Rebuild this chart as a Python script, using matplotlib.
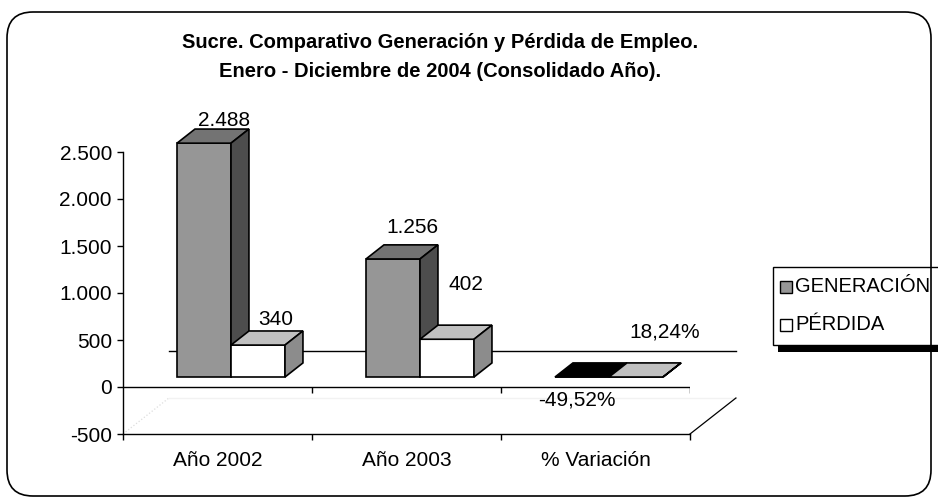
import matplotlib
matplotlib.use("Agg")
import matplotlib.pyplot as plt
from matplotlib.patches import Polygon, Rectangle, FancyBboxPatch
from matplotlib.transforms import IdentityTransform

plt.rcParams['font.family'] = ['Liberation Sans', 'DejaVu Sans']

# data
categories = ['Año 2002', 'Año 2003', '% Variación']
generacion = [2488, 1256, -0.4952]
perdida = [340, 402, 0.1824]
series_names = ['GENERACIÓN', 'PÉRDIDA']
is_pct = [False, False, True]
yticks = [-500, 0, 500, 1000, 1500, 2000, 2500]

# label offsets (pixels) from the top face of each bar
gen_off = [(11, 16), (10, 24), (-14, -30)]
per_off = [(9, 19), (10, 48), (20, 38)]


def fmt_num(v, pct):
    if pct:
        return f"{v * 100:.2f}%".replace('.', ',')
    return f"{v:,.0f}".replace(',', '.')


W, H = 938, 504
fig = plt.figure(figsize=(W / 100, H / 100), dpi=100)
ax = fig.add_axes([123 / W, (H - 434) / H, 567 / W, (434 - 152) / H])
ax.set_xlim(0, 3)
ax.set_ylim(-500, 2500)

# 3d look
bw = 2 / 7          # bar width
bx = 2 / 7          # first bar left within category
base = 106          # bars sit a bit back from the axis plane
ddx, ddy = 0.095, 150   # depth of bars
wdx, wdy = 0.243, 383   # depth of the floor

# back wall zero line and floor edges
ax.plot([wdx, 3 + wdx], [wdy, wdy], color='black', lw=1, clip_on=False, zorder=1)
ax.plot([wdx, 3 + wdx], [-500 + wdy, -500 + wdy], color='#f2f2f2', lw=1, clip_on=False, zorder=1)
ax.plot([3, 3 + wdx], [-500, -500 + wdy], color='black', lw=0.9, clip_on=False, zorder=1)
ax.plot([0, wdx], [-500, -500 + wdy], color='#dddddd', lw=0.9, ls=':', clip_on=False, zorder=1)

ax.axhline(0, color='black', lw=1, zorder=2)
ax.vlines([1, 2, 3], -60, 0, color='black', lw=1, zorder=2)

colors = {
    'gen': ('#969696', '#737373', '#4d4d4d'),
    'per': ('#ffffff', '#c0c0c0', '#8c8c8c'),
}


def bar3d(x0, val, cols, neg_top=None):
    front, top, side = cols
    b = base
    t = base + val
    lo, hi = min(b, t), max(b, t)
    kw = dict(edgecolor='black', lw=1.2, joinstyle='miter', clip_on=False, zorder=3)
    ax.add_patch(Polygon([(x0, lo), (x0 + bw, lo), (x0 + bw, hi), (x0, hi)], facecolor=front, **kw))
    tc = top if (val >= 0 or neg_top is None) else neg_top
    ax.add_patch(Polygon([(x0, hi), (x0 + bw, hi), (x0 + bw + ddx, hi + ddy), (x0 + ddx, hi + ddy)],
                         facecolor=tc, **kw))
    ax.add_patch(Polygon([(x0 + bw, lo), (x0 + bw + ddx, lo + ddy), (x0 + bw + ddx, hi + ddy), (x0 + bw, hi)],
                         facecolor=side, **kw))
    return (x0 + bw / 2 + ddx / 2, hi + ddy / 2)


for i in range(len(categories)):
    g = bar3d(i + bx, generacion[i], colors['gen'], neg_top='black')
    p = bar3d(i + bx + bw, perdida[i], colors['per'])
    for (cx, cy), v, off in [(g, generacion[i], gen_off[i]), (p, perdida[i], per_off[i])]:
        ax.annotate(fmt_num(v, is_pct[i]), (cx, cy), xytext=off, textcoords='offset pixels',
                    ha='center', va='center', fontsize=15, zorder=5, annotation_clip=False)

# axes styling
for s in ['top', 'right']:
    ax.spines[s].set_visible(False)
ax.spines['left'].set_linewidth(1)
ax.spines['bottom'].set_linewidth(1)
ax.set_yticks(yticks)
ax.set_yticklabels([fmt_num(v, False) for v in yticks])
ax.tick_params(axis='y', length=4, width=1, pad=4, labelsize=15)
ax.set_xticks([0.5, 1.5, 2.5])
ax.set_xticklabels(categories)
ax.set_xticks([0, 1, 2, 3], minor=True)
ax.tick_params(axis='x', which='major', length=0, pad=12, labelsize=15)
ax.tick_params(axis='x', which='minor', length=4, width=1)
ax.patch.set_alpha(0)

# title
fig.text(440 / W, 1 - 43 / H, 'Sucre. Comparativo Generación y Pérdida de Empleo.',
         ha='center', va='center', fontsize=14.5, fontweight='bold')
fig.text(440 / W, 1 - 72 / H, 'Enero - Diciembre de 2004 (Consolidado Año).',
         ha='center', va='center', fontsize=14.5, fontweight='bold')

# legend (drawn by hand, cut off by the right edge like the original)
idt = IdentityTransform()
fig.patches.append(Rectangle((778, H - 352), 200, 78, facecolor='black', edgecolor='none', transform=idt))
fig.patches.append(Rectangle((773, H - 345), 200, 78, facecolor='white', edgecolor='black', lw=1, transform=idt))
leg_y = [287, 325]
leg_cols = [colors['gen'][0], colors['per'][0]]
for name, yy, c in zip(series_names, leg_y, leg_cols):
    fig.patches.append(Rectangle((780, H - yy - 6), 12, 12, facecolor=c, edgecolor='black', lw=1, transform=idt))
    fig.text(795 / W, 1 - yy / H, name, ha='left', va='center', fontsize=14.5)

# outer rounded border
fig.patches.append(FancyBboxPatch((7, 8), 924, 484, boxstyle='round,pad=0,rounding_size=26',
                                  facecolor='none', edgecolor='black', lw=1.2, transform=idt))

fig.savefig('out.png', dpi=100)
